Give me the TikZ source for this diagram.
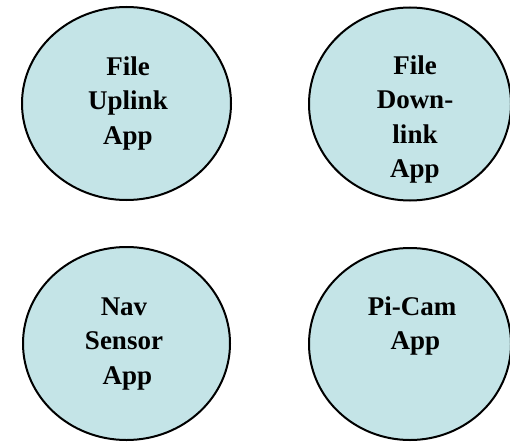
\documentclass[tikz,border=0pt]{standalone}
\usepackage{fontspec}
\setmainfont{Liberation Serif}
\definecolor{appfill}{HTML}{C4E4E7}
\begin{document}
\begin{tikzpicture}[x=1pt,y=-1pt,
  app/.style={draw=black,line width=2pt,fill=appfill},
  lbl/.style={align=center,anchor=base,inner sep=0pt,font=\fontsize{27}{34.5}\selectfont\bfseries}]
\useasboundingbox (0,0) rectangle (510,441);
\draw[app] (126.5,103.5) ellipse [x radius=104.5, y radius=96.5];
\node[inner sep=0pt] (e1) at (126.5,103.5) {};
\draw[app] (410,104) ellipse [x radius=101, y radius=96.5];
\node[inner sep=0pt] (e2) at (410,104) {};
\draw[app] (126.5,343.5) ellipse [x radius=103.5, y radius=96.5];
\node[inner sep=0pt] (e3) at (126.5,343.5) {};
\draw[app] (410,344) ellipse [x radius=101, y radius=96];
\node[inner sep=0pt] (e4) at (410,344) {};
\node[lbl] (t1) at (128,144) {File\\Uplink\\App};
\node[lbl] (t2) at (415,177.5) {File\\Down-\\link\\App};
\node[lbl] (t3) at (124,384) {Nav\\Sensor\\\ App};
\node[lbl] (t4) at (412,349.5) {Pi-Cam\\\ App};
\end{tikzpicture}
\end{document}
